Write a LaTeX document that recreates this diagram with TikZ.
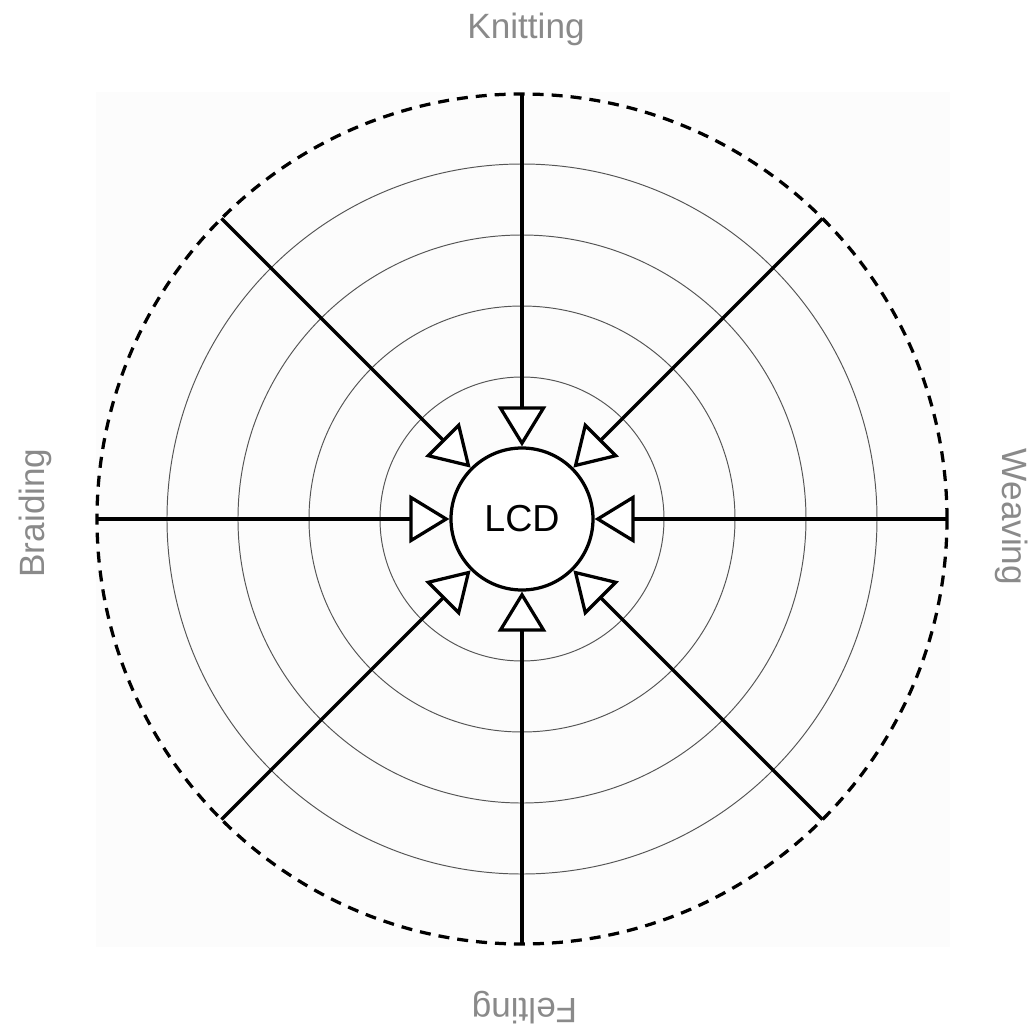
\documentclass[tikz,border=0pt]{standalone}
\usepackage{fontspec}
\setmainfont{Liberation Sans}
\usetikzlibrary{arrows.meta}
\definecolor{bgsq}{RGB}{252,252,252}
\definecolor{lblgray}{RGB}{138,138,138}
\definecolor{ringgray}{RGB}{85,85,85}
\begin{document}
\begin{tikzpicture}[
  ringline/.style={draw=ringgray, line width=0.55pt},
  outerring/.style={draw=black, line width=0.065cm, dash pattern=on 0.22cm off 0.16cm},
  lcdnode/.style={circle, draw=black, line width=0.065cm, fill=white, minimum size=2.84cm, inner sep=0pt, font=\fontsize{21.4}{25}\selectfont},
  conn/.style={draw=black, line width=0.065cm, -{Triangle[length=0.8cm, width=0.96cm, fill=white]}},
  sidelabel/.style={text=lblgray, anchor=base, inner sep=0pt, font=\fontsize{20}{24}\selectfont}
]
\useasboundingbox (-10.44,-10.16) rectangle (10.16,10.38);
\fill[bgsq] (-8.52,-8.56) rectangle (8.56,8.54);
\foreach \r in {2.84,4.26,5.68,7.10} {
  \draw[ringline] (0,0) circle (\r);
}
\draw[outerring] (0,0) circle (8.5);
\node[lcdnode] (lcd) at (0,0) {LCD};
\foreach \a in {0,45,90,135,180,225,270,315} {
  \coordinate (o\a) at (\a:8.5);
  \draw[conn] (o\a) -- (lcd);
}
\node[sidelabel] (knit) at (0.08,9.62) {Knitting};
\node[sidelabel, rotate=180] (felt) at (0.05,-9.58) {Felting};
\node[sidelabel, rotate=90] (braid) at (-9.54,0.12) {Braiding};
\node[sidelabel, rotate=-90] (weave) at (9.6,0.04) {Weaving};
\end{tikzpicture}
\end{document}
